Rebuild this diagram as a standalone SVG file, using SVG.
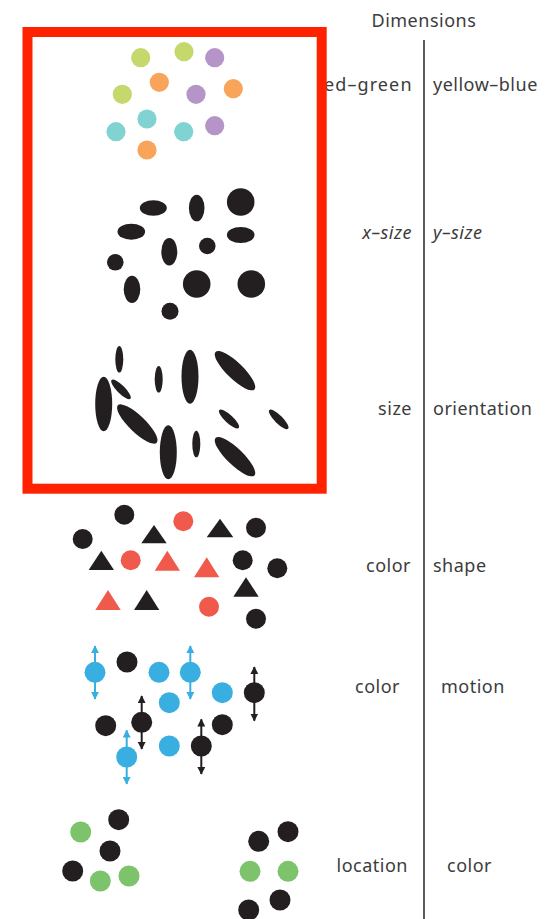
<svg xmlns="http://www.w3.org/2000/svg" width="554" height="919" viewBox="0 0 554 919">
  <style>
    .lbl { font-family: "Noto Sans", "Open Sans", sans-serif; font-size: 18px; fill: #3c3c3c; letter-spacing: 0.5px; }
    .end { text-anchor: end; }
    .it { font-style: italic; }
    .k { fill: #231f20; }
    .gy { fill: #c4d86c; }
    .pu { fill: #b595c8; }
    .or { fill: #f8a45a; }
    .te { fill: #80d3d1; }
    .rd { fill: #f05a4c; }
    .bl { fill: #39aee0; }
    .gn { fill: #7cc36c; }
    .ab { stroke: #39aee0; stroke-width: 2; fill: none; }
    .ak { stroke: #231f20; stroke-width: 2; fill: none; }
  </style>
  <defs>
    <marker id="headBlue" viewBox="0 0 10 10" refX="9" refY="5" markerWidth="4" markerHeight="4" orient="auto-start-reverse">
      <path d="M0,0 L10,5 L0,10 z" fill="#39aee0"/>
    </marker>
    <marker id="headBlack" viewBox="0 0 10 10" refX="9" refY="5" markerWidth="4" markerHeight="4" orient="auto-start-reverse">
      <path d="M0,0 L10,5 L0,10 z" fill="#231f20"/>
    </marker>
  </defs>

  <rect width="554" height="919" fill="#ffffff"/>

  <!-- column headings and divider -->
  <g id="header">
    <text class="lbl" x="371.5" y="27">Dimensions</text>
    <line x1="424" y1="40" x2="424" y2="919" stroke="#333333" stroke-width="1.6"/>
  </g>

  <!-- row labels -->
  <g id="labels">
    <text class="lbl end" x="412" y="91" textLength="88" lengthAdjust="spacing">ed–green</text>
    <text class="lbl" x="433" y="91">yellow–blue</text>
    <text class="lbl end it" x="412" y="239">x–size</text>
    <text class="lbl it" x="433" y="239">y–size</text>
    <text class="lbl end" x="412" y="415">size</text>
    <text class="lbl" x="433" y="415">orientation</text>
    <text class="lbl end" x="411" y="572">color</text>
    <text class="lbl" x="433" y="572">shape</text>
    <text class="lbl end" x="400" y="693">color</text>
    <text class="lbl" x="441" y="693">motion</text>
    <text class="lbl end" x="408" y="872">location</text>
    <text class="lbl" x="447" y="872">color</text>
  </g>

  <!-- red–green / yellow–blue -->
  <g id="row-hue">
    <circle class="gy" cx="140.7" cy="57.7" r="9.6"/>
    <circle class="gy" cx="184" cy="51.7" r="9.6"/>
    <circle class="pu" cx="214.7" cy="57.7" r="9.6"/>
    <circle class="or" cx="159.3" cy="82.3" r="9.6"/>
    <circle class="or" cx="233.3" cy="88.7" r="9.6"/>
    <circle class="gy" cx="122.3" cy="94.3" r="9.6"/>
    <circle class="pu" cx="196" cy="94.3" r="9.6"/>
    <circle class="te" cx="147" cy="119" r="9.6"/>
    <circle class="te" cx="116" cy="131.7" r="9.6"/>
    <circle class="te" cx="183.7" cy="131.7" r="9.6"/>
    <circle class="pu" cx="214.7" cy="125.7" r="9.6"/>
    <circle class="or" cx="147" cy="150" r="9.6"/>
  </g>

  <!-- x-size / y-size -->
  <g id="row-size" class="k">
    <ellipse cx="153.3" cy="208" rx="13.5" ry="7.8"/>
    <ellipse cx="196.7" cy="208" rx="7.8" ry="13.3"/>
    <circle cx="240.7" cy="202" r="13.8"/>
    <ellipse cx="131.3" cy="231.7" rx="13.8" ry="8"/>
    <ellipse cx="240.7" cy="235" rx="13.8" ry="8"/>
    <ellipse cx="169.3" cy="251.7" rx="8" ry="13.8"/>
    <circle cx="207.3" cy="246" r="8.3"/>
    <circle cx="115.3" cy="262.3" r="8.3"/>
    <ellipse cx="132" cy="289.3" rx="8.3" ry="13.6"/>
    <circle cx="196.7" cy="284" r="13.8"/>
    <circle cx="251.3" cy="284" r="13.8"/>
    <circle cx="170" cy="311.3" r="8.5"/>
  </g>

  <!-- size / orientation -->
  <g id="row-orient" class="k">
    <ellipse cx="119.3" cy="359.3" rx="4" ry="13.3"/>
    <ellipse cx="158.7" cy="379.3" rx="4" ry="13.3"/>
    <ellipse cx="190" cy="376.7" rx="8.5" ry="27"/>
    <ellipse cx="0" cy="0" rx="27" ry="8.2" transform="translate(235 370.7) rotate(44)"/>
    <ellipse cx="103.7" cy="404" rx="8.5" ry="27.2"/>
    <ellipse cx="0" cy="0" rx="13.3" ry="4" transform="translate(121 389.3) rotate(45)"/>
    <ellipse cx="0" cy="0" rx="27" ry="8.2" transform="translate(137.3 424) rotate(44)"/>
    <ellipse cx="168.3" cy="452.3" rx="8.5" ry="27"/>
    <ellipse cx="196.3" cy="444" rx="4" ry="13.3"/>
    <ellipse cx="0" cy="0" rx="13.3" ry="4" transform="translate(229 419) rotate(43)"/>
    <ellipse cx="0" cy="0" rx="13.3" ry="4" transform="translate(278.7 419.3) rotate(45)"/>
    <ellipse cx="0" cy="0" rx="27" ry="8.2" transform="translate(235 456.7) rotate(44)"/>
  </g>

  <!-- highlighted panel around the first three rows -->
  <g id="highlight">
    <rect x="27.5" y="32" width="294.2" height="456.7" fill="none" stroke="#ff2200" stroke-width="10"/>
  </g>

  <!-- color / shape -->
  <g id="row-shape">
    <circle class="k" cx="124.3" cy="514.7" r="10"/>
    <circle class="k" cx="82.7" cy="539" r="10"/>
    <circle class="k" cx="256" cy="527.7" r="10"/>
    <circle class="k" cx="242.7" cy="560.3" r="10"/>
    <circle class="k" cx="277.3" cy="568.3" r="10"/>
    <circle class="k" cx="256" cy="618.7" r="10"/>
    <circle class="rd" cx="183.3" cy="521.3" r="10"/>
    <circle class="rd" cx="130.7" cy="560.3" r="10"/>
    <circle class="rd" cx="209" cy="606.7" r="10"/>
    <polygon class="k" points="154,525 166.7,543.3 141.3,543.3"/>
    <polygon class="k" points="220,518.7 233.3,537.3 206.7,537.3"/>
    <polygon class="k" points="101.3,550.7 114,570 88.7,570"/>
    <polygon class="k" points="146.7,590 159.3,610 134,610"/>
    <polygon class="k" points="246,577.3 258.7,596.7 233.3,596.7"/>
    <polygon class="rd" points="167.3,550.7 180,570.7 154.7,570.7"/>
    <polygon class="rd" points="206.7,557.3 219.3,577.3 194,577.3"/>
    <polygon class="rd" points="108,590 120.7,610 95.3,610"/>
  </g>

  <!-- color / motion -->
  <g id="row-motion">
    <line class="ab" x1="95" y1="672.3" x2="95" y2="646" marker-end="url(#headBlue)"/>
    <line class="ab" x1="95" y1="672.3" x2="95" y2="699" marker-end="url(#headBlue)"/>
    <line class="ab" x1="190.3" y1="672.3" x2="190.3" y2="646" marker-end="url(#headBlue)"/>
    <line class="ab" x1="190.3" y1="672.3" x2="190.3" y2="699" marker-end="url(#headBlue)"/>
    <line class="ab" x1="126.7" y1="757" x2="126.7" y2="730.3" marker-end="url(#headBlue)"/>
    <line class="ab" x1="126.7" y1="757" x2="126.7" y2="784" marker-end="url(#headBlue)"/>
    <line class="ak" x1="141.7" y1="722.3" x2="141.7" y2="696" marker-end="url(#headBlack)"/>
    <line class="ak" x1="141.7" y1="722.3" x2="141.7" y2="749" marker-end="url(#headBlack)"/>
    <line class="ak" x1="254.3" y1="692.7" x2="254.3" y2="667" marker-end="url(#headBlack)"/>
    <line class="ak" x1="254.3" y1="692.7" x2="254.3" y2="720.7" marker-end="url(#headBlack)"/>
    <line class="ak" x1="201.3" y1="746" x2="201.3" y2="719.3" marker-end="url(#headBlack)"/>
    <line class="ak" x1="201.3" y1="746" x2="201.3" y2="774" marker-end="url(#headBlack)"/>
    <circle class="bl" cx="95" cy="672.3" r="10.5"/>
    <circle class="bl" cx="159" cy="672.3" r="10.5"/>
    <circle class="bl" cx="190.3" cy="672.3" r="10.5"/>
    <circle class="bl" cx="169.3" cy="702.7" r="10.5"/>
    <circle class="bl" cx="222.3" cy="692.7" r="10.5"/>
    <circle class="bl" cx="169.3" cy="746" r="10.5"/>
    <circle class="bl" cx="126.7" cy="757" r="10.5"/>
    <circle class="k" cx="127" cy="662" r="10.5"/>
    <circle class="k" cx="105.7" cy="725.7" r="10.5"/>
    <circle class="k" cx="141.7" cy="722.3" r="10.5"/>
    <circle class="k" cx="222.3" cy="724.7" r="10.5"/>
    <circle class="k" cx="254.3" cy="692.7" r="10.5"/>
    <circle class="k" cx="201.3" cy="746" r="10.5"/>
  </g>

  <!-- location / color -->
  <g id="row-location">
    <circle class="gn" cx="80.7" cy="832" r="10.5"/>
    <circle class="gn" cx="100.3" cy="881" r="10.5"/>
    <circle class="gn" cx="129" cy="876" r="10.5"/>
    <circle class="gn" cx="250" cy="871.3" r="10.5"/>
    <circle class="gn" cx="288" cy="871.3" r="10.5"/>
    <circle class="k" cx="118.7" cy="819.7" r="10.5"/>
    <circle class="k" cx="110" cy="851" r="10.5"/>
    <circle class="k" cx="72.7" cy="871" r="10.5"/>
    <circle class="k" cx="258.7" cy="841.3" r="10.5"/>
    <circle class="k" cx="288" cy="831.7" r="10.5"/>
    <circle class="k" cx="280" cy="900" r="10.5"/>
    <circle class="k" cx="248.7" cy="910" r="10.5"/>
  </g>
</svg>
